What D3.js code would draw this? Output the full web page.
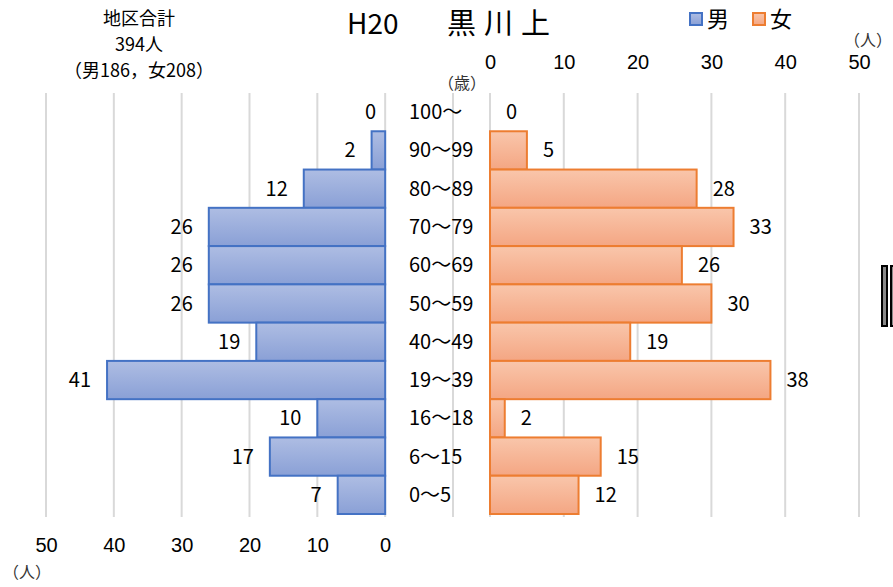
<!DOCTYPE html>
<html><head><meta charset="utf-8">
<script src="https://cdn.jsdelivr.net/npm/d3@7"></script>
<style>
html,body{margin:0;padding:0;background:#fff;}
svg{display:block;font-family:"Noto Sans CJK JP","Noto Sans",sans-serif;}
</style></head>
<body><svg id="c" width="893" height="587"></svg>
<script>
const ages = ["100〜","90〜99","80〜89","70〜79","60〜69","50〜59","40〜49","19〜39","16〜18","6〜15","0〜5"];
const male = [0,2,12,26,26,26,19,41,10,17,7];
const female = [0,5,28,33,26,30,19,38,2,15,12];
const ticks = [0,10,20,30,40,50];
const titleYear = "H20";
const titleArea = "黒川上";
const summary = ["地区合計","394人","（男186，女208）"];

const svg = d3.select("#c");
const defs = svg.append("defs");
function grad(id, c1, c2){
  const g = defs.append("linearGradient").attr("id",id).attr("x1",0).attr("y1",0).attr("x2",0).attr("y2",1);
  g.append("stop").attr("offset","0%").attr("stop-color",c1);
  g.append("stop").attr("offset","100%").attr("stop-color",c2);
}
grad("gm","#aebde3","#8aa0d6");
grad("gf","#f9c6ab","#f4a683");

const xM = d3.scaleLinear().domain([50,-10]).range([46,453]);
const xF = d3.scaleLinear().domain([0,50]).range([490,859]);
const y = d3.scaleBand().domain(ages).range([93,514]).padding(0);
const gridTop = 93, gridBot = 517;

// gridlines
svg.append("g").selectAll("line").data([50,40,30,20,10,0,-10]).join("line")
  .attr("x1",d=>xM(d)).attr("x2",d=>xM(d)).attr("y1",gridTop).attr("y2",gridBot)
  .attr("stroke","#d9d9d9").attr("stroke-width",2);
svg.append("g").selectAll("line").data(ticks).join("line")
  .attr("x1",d=>xF(d)).attr("x2",d=>xF(d)).attr("y1",gridTop).attr("y2",gridBot)
  .attr("stroke","#d9d9d9").attr("stroke-width",2);

// bars
const rows = ages.map((a,i)=>({age:a,m:male[i],f:female[i]}));
svg.append("g").selectAll("rect").data(rows.filter(d=>d.m>0)).join("rect")
  .attr("x",d=>xM(d.m)).attr("y",d=>y(d.age))
  .attr("width",d=>xM(0)-xM(d.m)).attr("height",y.bandwidth())
  .attr("fill","url(#gm)").attr("stroke","#4472c4").attr("stroke-width",2);
svg.append("g").selectAll("rect").data(rows.filter(d=>d.f>0)).join("rect")
  .attr("x",xF(0)).attr("y",d=>y(d.age))
  .attr("width",d=>xF(d.f)-xF(0)).attr("height",y.bandwidth())
  .attr("fill","url(#gf)").attr("stroke","#ed7d31").attr("stroke-width",2);

// value labels
const fs = 20;
svg.append("g").selectAll("text").data(rows).join("text")
  .attr("x",d=>xM(d.m)-(d.m===0?9:16)).attr("y",d=>y(d.age)+y.bandwidth()/2)
  .attr("dy","0.35em").attr("text-anchor","end").attr("font-size",fs).attr("fill","#000")
  .text(d=>d.m);
svg.append("g").selectAll("text").data(rows).join("text")
  .attr("x",d=>xF(d.f)+16).attr("y",d=>y(d.age)+y.bandwidth()/2)
  .attr("dy","0.35em").attr("text-anchor","start").attr("font-size",fs).attr("fill","#000")
  .text(d=>d.f);

// age labels
svg.append("g").selectAll("text").data(ages).join("text")
  .attr("x",409).attr("y",d=>y(d)+y.bandwidth()/2)
  .attr("dy","0.35em").attr("font-size",fs).attr("fill","#000").text(d=>d);

// axes
const axB = svg.append("g").attr("transform","translate(0,545)")
  .call(d3.axisBottom(xM).tickValues(ticks).tickSize(0).tickFormat(d3.format("d")));
axB.select(".domain").remove();
axB.selectAll("text").attr("font-size",fs).attr("fill","#000").attr("font-family",null).attr("dy","0.35em").attr("y",0);
const axT = svg.append("g").attr("transform","translate(0,62)")
  .call(d3.axisTop(xF).tickValues(ticks).tickSize(0).tickFormat(d3.format("d")));
axT.select(".domain").remove();
axT.selectAll("text").attr("font-size",fs).attr("fill","#000").attr("font-family",null).attr("dy","0.35em").attr("y",0);

// unit labels
svg.append("text").attr("x",892).attr("y",46).attr("text-anchor","end").attr("font-size",16).attr("fill","#333").text("（人）");
svg.append("text").attr("x",27).attr("y",578).attr("text-anchor","middle").attr("font-size",16).attr("fill","#333").text("（人）");
svg.append("text").attr("x",462).attr("y",89).attr("text-anchor","middle").attr("font-size",16).attr("fill","#333").text("（歳）");

// title
svg.append("text").attr("x",347).attr("y",34).attr("font-size",28).attr("fill","#000").text(titleYear);
svg.append("text").attr("x",447).attr("y",34).attr("font-size",29).attr("letter-spacing",8).attr("fill","#000").text(titleArea);

// summary
svg.selectAll("text.sum").data(summary).join("text").attr("class","sum")
  .attr("x",139).attr("y",(d,i)=>19+i*26).attr("dy","0.35em").attr("text-anchor","middle")
  .attr("font-size",18).attr("fill","#000").text(d=>d);

// legend
const leg = [{k:"男",fill:"url(#gm)",stroke:"#4472c4",x:690},{k:"女",fill:"url(#gf)",stroke:"#ed7d31",x:753}];
const lg = svg.append("g").selectAll("g").data(leg).join("g").attr("transform",d=>`translate(${d.x},13)`);
lg.append("rect").attr("width",12).attr("height",12).attr("fill",d=>d.fill).attr("stroke",d=>d.stroke).attr("stroke-width",2);
lg.append("text").attr("x",17).attr("y",6).attr("dy","0.35em").attr("font-size",22).attr("fill","#000").text(d=>d.k);

// edge artifact
svg.append("rect").attr("x",882).attr("y",266).attr("width",5).attr("height",60).attr("fill","#888").attr("stroke","#000").attr("stroke-width",2);
svg.append("rect").attr("x",891).attr("y",266).attr("width",5).attr("height",60).attr("fill","#888").attr("stroke","#000").attr("stroke-width",2);
</script></body></html>
